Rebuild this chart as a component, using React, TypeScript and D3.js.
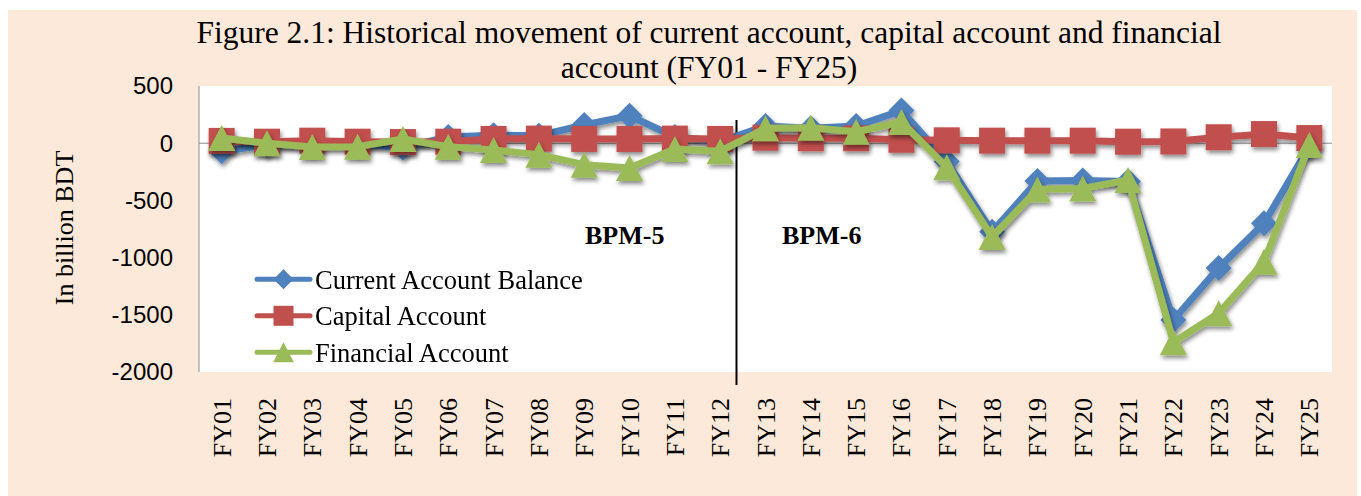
import { useEffect, useRef } from 'react';
import * as d3 from 'd3';

const years = [
  'FY01', 'FY02', 'FY03', 'FY04', 'FY05', 'FY06', 'FY07', 'FY08', 'FY09', 'FY10',
  'FY11', 'FY12', 'FY13', 'FY14', 'FY15', 'FY16', 'FY17', 'FY18', 'FY19', 'FY20',
  'FY21', 'FY22', 'FY23', 'FY24', 'FY25',
];

// In billion BDT
const currentAccount = [
  -70, -15, -10, -5, -40, 55, 70, 65, 160, 240,
  55, 15, 150, 130, 150, 285, -160, -775, -330, -325,
  -335, -1545, -1090, -700, -30,
];
const capitalAccount = [
  20, 13, 22, 13, 10, 13, 37, 40, 37, 37,
  40, 37, 48, 43, 43, 30, 25, 22, 22, 22,
  13, 15, 52, 80, 45,
];
const financialAccount = [
  45, 0, -33, -30, 37, -30, -60, -100, -188, -217,
  -50, -70, 130, 136, 100, 185, -210, -820, -405, -395,
  -322, -1740, -1487, -1036, -16,
];

const yTicks = [500, 0, -500, -1000, -1500, -2000];
const seriesNames = ['Current Account Balance', 'Capital Account', 'Financial Account'];
const seriesColors = ['#4F81BD', '#C0504D', '#9BBB59'];
const titleLines = [
  'Figure 2.1: Historical movement of current account, capital account and financial',
  'account (FY01 - FY25)',
];

type Shape = 'diamond' | 'square' | 'triangle';
const shapes: Shape[] = ['diamond', 'square', 'triangle'];

function markerPath(shape: Shape, s: number) {
  const h = s / 2;
  if (shape === 'square') return `M${-h},${-h}H${h}V${h}H${-h}Z`;
  if (shape === 'diamond') return `M0,${-h}L${h},0L0,${h}L${-h},0Z`;
  return `M0,${-h}L${h * 1.04},${h}L${-h * 1.04},${h}Z`;
}

export default function App() {
  const svgRef = useRef<SVGSVGElement>(null);

  useEffect(() => {
    if (!svgRef.current) return;
    const width = 1361;
    const height = 496;
    const plot = { left: 199, right: 1332, top: 86, bottom: 372 };

    const svg = d3.select(svgRef.current)
      .attr('width', width)
      .attr('height', height);
    svg.selectAll('*').remove();

    const defs = svg.append('defs');
    const f = defs.append('filter').attr('id', 'shadow')
      .attr('x', '-50%').attr('y', '-50%').attr('width', '200%').attr('height', '200%');
    f.append('feDropShadow')
      .attr('dx', 1.5).attr('dy', 3).attr('stdDeviation', 2)
      .attr('flood-color', '#000').attr('flood-opacity', 0.45);

    // backgrounds
    svg.append('rect').attr('x', 8).attr('y', 10).attr('width', 1349).attr('height', 486)
      .attr('fill', '#FDE9D9');
    svg.append('rect').attr('x', plot.left).attr('y', plot.top)
      .attr('width', plot.right - plot.left).attr('height', plot.bottom - plot.top)
      .attr('fill', '#fff');

    const x = d3.scaleBand<string>().domain(years).range([plot.left, plot.right]);
    const cx = (d: string) => (x(d) ?? 0) + x.bandwidth() / 2;
    const y = d3.scaleLinear().domain([-2000, 500]).range([plot.bottom, plot.top]);

    // title
    svg.append('g').selectAll('text').data(titleLines).enter().append('text')
      .attr('x', 709)
      .attr('y', (_, i) => 43 + i * 35)
      .attr('text-anchor', 'middle')
      .style('font-family', '"Liberation Serif", "Times New Roman", serif')
      .style('font-size', '31.5px')
      .style('fill', '#000')
      .text(d => d);

    // y axis
    svg.append('line')
      .attr('x1', plot.left).attr('x2', plot.left)
      .attr('y1', plot.top).attr('y2', plot.bottom)
      .attr('stroke', '#8c8c8c').attr('stroke-width', 1);
    svg.append('g').selectAll('text').data(yTicks).enter().append('text')
      .attr('x', 173)
      .attr('y', d => y(d))
      .attr('dy', '0.35em')
      .attr('text-anchor', 'end')
      .style('font-family', '"Liberation Sans", Arial, sans-serif')
      .style('font-size', '24px')
      .style('fill', '#000')
      .text(d => String(d));

    svg.append('text')
      .attr('transform', `translate(73,228) rotate(-90)`)
      .attr('text-anchor', 'middle')
      .style('font-family', '"Liberation Serif", "Times New Roman", serif')
      .style('font-size', '26px')
      .style('fill', '#000')
      .text('In billion BDT');

    // zero line (category axis)
    svg.append('line')
      .attr('x1', plot.left).attr('x2', plot.right)
      .attr('y1', y(0)).attr('y2', y(0))
      .attr('stroke', '#8c8c8c').attr('stroke-width', 1);

    // x labels
    svg.append('g').selectAll('text').data(years).enter().append('text')
      .attr('transform', d => `translate(${cx(d) + 9},398) rotate(-90)`)
      .attr('text-anchor', 'end')
      .style('font-family', '"Liberation Serif", "Times New Roman", serif')
      .style('font-size', '26px')
      .style('fill', '#000')
      .text(d => d);

    // BPM divider and labels
    const divX = cx('FY12') + x.bandwidth() * 0.36;
    svg.append('line')
      .attr('x1', divX).attr('x2', divX)
      .attr('y1', 120).attr('y2', 385)
      .attr('stroke', '#000').attr('stroke-width', 2);
    const bpm = [
      { label: 'BPM-5', x: 585 },
      { label: 'BPM-6', x: 782 },
    ];
    svg.append('g').selectAll('text').data(bpm).enter().append('text')
      .attr('x', d => d.x)
      .attr('y', 244)
      .style('font-family', '"Liberation Serif", "Times New Roman", serif')
      .style('font-size', '26px')
      .style('font-weight', 'bold')
      .style('fill', '#000')
      .text(d => d.label);

    // series
    const allSeries = [currentAccount, capitalAccount, financialAccount];
    const line = d3.line<number>()
      .x((_, i) => cx(years[i]))
      .y(d => y(d));

    allSeries.forEach((vals, si) => {
      const g = svg.append('g').attr('filter', 'url(#shadow)');
      g.append('path')
        .attr('d', line(vals))
        .attr('fill', 'none')
        .attr('stroke', seriesColors[si])
        .attr('stroke-width', 7)
        .attr('stroke-linejoin', 'round')
        .attr('stroke-linecap', 'round');
      g.selectAll('path.m').data(vals).enter().append('path')
        .attr('class', 'm')
        .attr('transform', (d, i) => `translate(${cx(years[i])},${y(d)})`)
        .attr('d', markerPath(shapes[si], 26))
        .attr('fill', seriesColors[si]);
    });

    // legend
    const lg = svg.append('g').selectAll('g').data(seriesNames).enter().append('g')
      .attr('transform', (_, i) => `translate(257,${279.3 + i * 36.5})`);
    lg.append('line')
      .attr('x1', 0).attr('x2', 53)
      .attr('stroke', (_, i) => seriesColors[i])
      .attr('stroke-width', 5)
      .attr('stroke-linecap', 'round');
    lg.append('path')
      .attr('transform', 'translate(26.5,0)')
      .attr('d', (_, i) => markerPath(shapes[i], 20))
      .attr('fill', (_, i) => seriesColors[i]);
    lg.append('text')
      .attr('x', 58)
      .attr('dy', '0.35em')
      .style('font-family', '"Liberation Serif", "Times New Roman", serif')
      .style('font-size', '26.5px')
      .style('fill', '#000')
      .text(d => d);
  }, []);

  return (
    <svg ref={svgRef} style={{ position: 'absolute', left: 0, top: 0, display: 'block', background: '#fff' }} />
  );
}
